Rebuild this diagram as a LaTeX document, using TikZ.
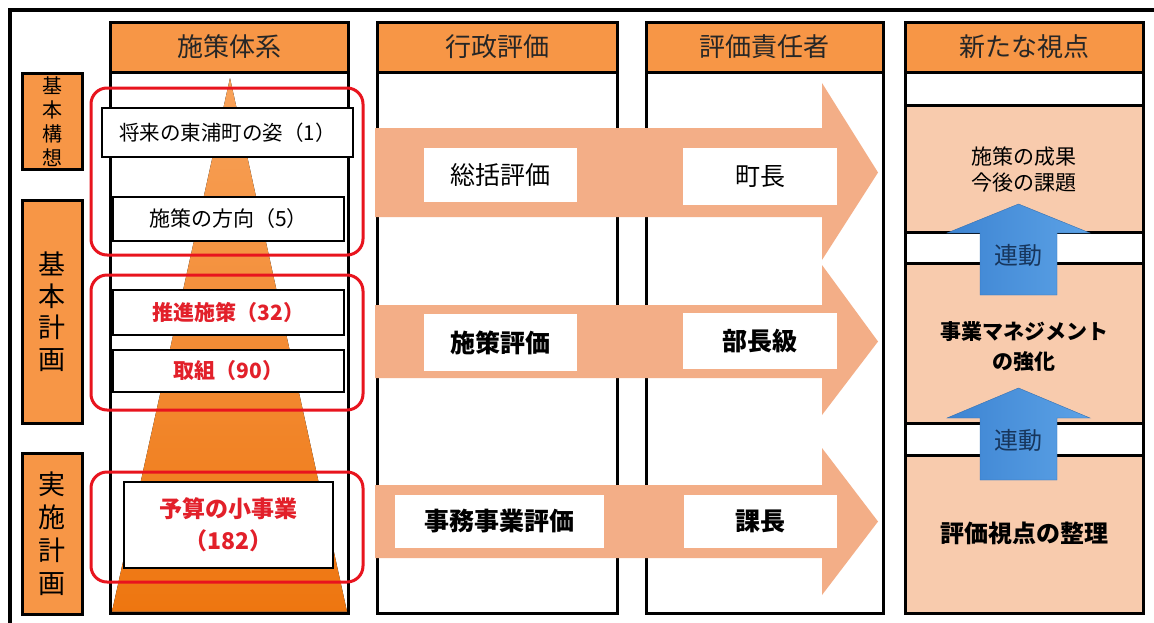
\documentclass[tikz,border=0pt]{standalone}
\usepackage{fontspec}
\newfontfamily\cjk{Noto Sans CJK JP}
\definecolor{hdr}{HTML}{F79646}
\definecolor{peach}{HTML}{F8CBAD}
\definecolor{arr}{HTML}{F3AE87}
\definecolor{redline}{HTML}{E8141E}
\definecolor{redtext}{HTML}{E2202A}
\definecolor{blueL}{HTML}{3D84D2}
\definecolor{blueR}{HTML}{5CA2E6}
\definecolor{navy}{HTML}{17365D}
\definecolor{triTop}{HTML}{F8A25A}
\definecolor{triBot}{HTML}{EE7610}
\newcommand{\fs}[2]{\fontsize{#1}{#2}\selectfont}
\tikzset{
  colframe/.style={draw, line width=3pt, fill=white},
  hdrframe/.style={draw, line width=3pt, fill=hdr},
  hdrtext/.style={font=\cjk\fs{26}{30}, text=black!85},
  lbl/.style={draw, line width=3pt, fill=hdr, inner sep=0pt, minimum width=60pt, align=center},
  wbox/.style={draw, line width=1.5pt, fill=white, inner sep=0pt, align=center},
  abox/.style={fill=white, inner sep=0pt, align=center, font=\cjk\fs{25}{30}},
  redrect/.style={draw=redline, line width=3pt, rounded corners=16pt},
  orarrow/.style={fill=arr},
  bluearrow/.style={left color=blueL, right color=blueR, draw=blueL!85!black, line width=0.4pt},
  sepline/.style={line width=3pt},
}
\begin{document}
\begin{tikzpicture}[x=1pt,y=-1pt]
\useasboundingbox (0,0) rectangle (1154,622);
\fill[white] (0,0) rectangle (1154,622);
% outer frame
\draw[line width=4pt] (10,624) -- (10,10) -- (1156,10);

% left labels
\node[lbl, minimum height=96pt, font=\cjk\fs{20}{24}] (l1) at (52,121.5) {基\\本\\構\\想};
\node[lbl, minimum height=223pt, font=\cjk\fs{27}{31.5}] (l2) at (52,311.5) {基\\本\\計\\画};
\node[lbl, minimum height=161pt, font=\cjk\fs{27}{33}] (l3) at (52,534) {実\\施\\計\\画};

% columns
\draw[colframe] (110,22) rectangle (348,613);
\draw[hdrframe] (110,22) rectangle (348,72);
\node[hdrtext] (h1) at (229,47) {施策体系};
\draw[colframe] (377,22) rectangle (617,613);
\draw[hdrframe] (377,22) rectangle (617,72);
\node[hdrtext] (h2) at (497,47) {行政評価};
\draw[colframe] (646,22) rectangle (883,613);
\draw[hdrframe] (646,22) rectangle (883,72);
\node[hdrtext] (h3) at (764.5,47) {評価責任者};
\draw[colframe] (905,22) rectangle (1143,613);
\draw[hdrframe] (905,22) rectangle (1143,72);
\node[hdrtext] (h4) at (1024,47) {新たな視点};

% triangle in column 1
\fill[top color=triTop, bottom color=triBot] (230,78) -- (347,611.5) -- (112,611.5) -- cycle;

% column 1 boxes
\node[wbox, minimum width=251pt, minimum height=49pt, font=\cjk\fs{20.5}{24}] (b1) at (227.5,132.5) {将来の東浦町の姿（1）};
\node[wbox, minimum width=231pt, minimum height=44pt, font=\cjk\fs{21}{24}] (b2) at (228.5,219) {施策の方向（5）};
\node[wbox, minimum width=231pt, minimum height=45pt, font=\cjk\bfseries\fs{21}{24}, text=redtext] (b3) at (228.5,312.5) {推進施策（32）};
\node[wbox, minimum width=231pt, minimum height=42pt, font=\cjk\bfseries\fs{21}{24}, text=redtext] (b4) at (228.5,371) {取組（90）};
\node[wbox, minimum width=209pt, minimum height=86pt, font=\cjk\bfseries\fs{23}{32}, text=redtext] (b5) at (228.5,525) {予算の小事業\\（182）};

% red rounded groups
\draw[redrect] (91,88) rectangle (363,255);
\draw[redrect] (91,275) rectangle (363,410);
\draw[redrect] (91,472) rectangle (363,582);

% orange arrows
\fill[orarrow] (375,128) -- (822,128) -- (822,83) -- (878,172.5) -- (822,260) -- (822,217) -- (375,217) -- cycle;
\fill[orarrow] (375,305) -- (822,305) -- (822,265) -- (878,341.5) -- (822,415) -- (822,378) -- (375,378) -- cycle;
\fill[orarrow] (375,485) -- (822,485) -- (822,448) -- (878,521.5) -- (822,595) -- (822,558) -- (375,558) -- cycle;

% boxes on arrows
\node[abox, minimum width=153pt, minimum height=54pt] (e1) at (500.5,175) {総括評価};
\node[abox, minimum width=154pt, minimum height=57pt] (r1) at (760,176.5) {町長};
\node[abox, minimum width=153pt, minimum height=57pt, font=\cjk\bfseries\fs{25}{30}] (e2) at (500.5,342.5) {施策評価};
\node[abox, minimum width=154pt, minimum height=56pt, font=\cjk\bfseries\fs{25}{30}] (r2) at (760,341) {部長級};
\node[abox, minimum width=209pt, minimum height=53pt, font=\cjk\bfseries\fs{25}{30}] (e3) at (499.5,521.5) {事務事業評価};
\node[abox, minimum width=153pt, minimum height=53pt, font=\cjk\bfseries\fs{25}{30}] (r3) at (760.5,521.5) {課長};

% column 4 bands
\fill[peach] (906.5,105) rectangle (1141.5,232);
\fill[peach] (906.5,263) rectangle (1141.5,423);
\fill[peach] (906.5,455) rectangle (1141.5,611.5);
\draw[sepline] (905,105) -- (1143,105);
\draw[sepline] (905,232) -- (1143,232);
\draw[sepline] (905,263) -- (1143,263);
\draw[sepline] (905,423) -- (1143,423);
\draw[sepline] (905,455) -- (1143,455);
\draw[line width=3pt] (905,72) rectangle (1143,613);

\node[font=\cjk\fs{21}{26}, align=center] (p1) at (1024,170) {施策の成果\\今後の課題};
\node[font=\cjk\bfseries\fs{21}{30}, align=center] (p2) at (1024,347) {事業マネジメント\\の強化};
\node[font=\cjk\bfseries\fs{24}{28}] (p3) at (1024,533) {評価視点の整理};

% blue arrows
\path[bluearrow] (980,295) -- (980,233) -- (947,233) -- (1018.5,204) -- (1090,233) -- (1057,233) -- (1057,295) -- cycle;
\node[font=\cjk\fs{24}{28}, text=navy] (k1) at (1018.5,255) {連動};
\path[bluearrow] (980,480) -- (980,418) -- (947,418) -- (1018.5,388) -- (1090,418) -- (1057,418) -- (1057,480) -- cycle;
\node[font=\cjk\fs{24}{28}, text=navy] (k2) at (1018.5,440) {連動};
\end{tikzpicture}
\end{document}
